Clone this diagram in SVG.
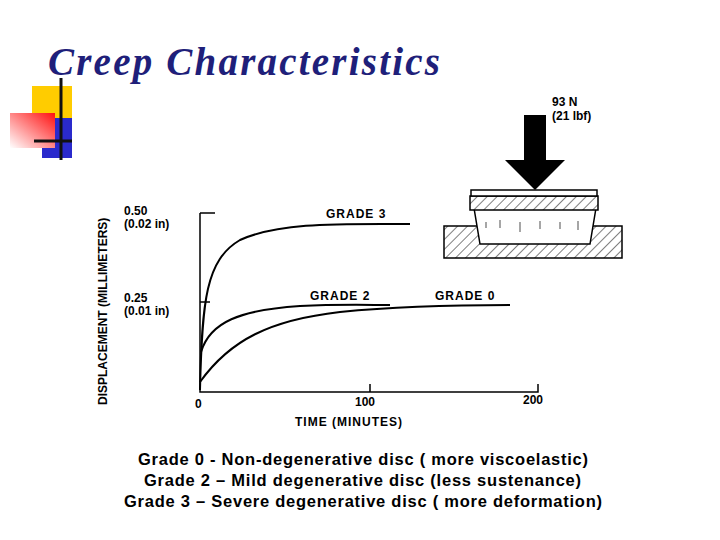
<svg xmlns="http://www.w3.org/2000/svg" width="720" height="540" viewBox="0 0 720 540">
<defs>
<linearGradient id="rg" x1="1" y1="0" x2="0" y2="1"><stop offset="0" stop-color="#ff1010"/><stop offset="1" stop-color="#ffffff"/></linearGradient>
<pattern id="hatch" width="7" height="7" patternUnits="userSpaceOnUse" patternTransform="rotate(45)"><rect width="7" height="7" fill="#fff"/><line x1="0" y1="0" x2="0" y2="7" stroke="#000" stroke-width="1"/></pattern>
<style>.ax{fill:none;stroke:#000;stroke-width:1.5}.cv{fill:none;stroke:#000;stroke-width:2}.lb{font-family:"Liberation Sans",Arial,sans-serif;font-weight:bold;font-size:12px;fill:#000}.cap{font-family:"Liberation Sans",Arial,sans-serif;font-weight:bold;font-size:16.5px;fill:#000}</style>
</defs>
<rect width="720" height="540" fill="#fff"/>
<text x="48" y="75" font-family="Liberation Serif,serif" font-style="italic" font-weight="bold" font-size="39" fill="#1f1f7a" textLength="392" lengthAdjust="spacing">Creep Characteristics</text>
<g id="logo">
<rect x="32" y="86" width="40" height="32" fill="#ffcc00"/>
<rect x="42" y="118" width="30" height="40" fill="#2a2acc"/>
<rect x="10" y="113" width="45" height="35" fill="url(#rg)"/>
<line x1="61" y1="78" x2="61" y2="160" stroke="#111" stroke-width="3"/>
<line x1="34" y1="141" x2="72" y2="141" stroke="#111" stroke-width="3"/>
</g>
<g id="axes">
<path class="ax" d="M200 213 H215 M200 213 V392 H538 V384 M370 392 V384 M200 302 H210"/>
</g>
<g id="curves">
<path class="cv" d="M200 390 C202 300 206 260 240 240 C280 222 340 224 410 224"/>
<path class="cv" d="M201 352 C210 322 240 310 300 306 C340 304 370 305 390 305"/>
<path class="cv" d="M200 382 C230 340 270 320 340 312 C400 306 460 305 510 305"/>
</g>
<g id="labels">
<text class="lb" x="124" y="215" font-size="11.5">0.50</text><text class="lb" x="124" y="228" font-size="11.5">(0.02 in)</text>
<text class="lb" x="124" y="302" font-size="11.5">0.25</text><text class="lb" x="124" y="315" font-size="11.5">(0.01 in)</text>
<text class="lb" x="195" y="408" font-size="13">0</text><text class="lb" x="355" y="406" font-size="13">100</text><text class="lb" x="523" y="404" font-size="13">200</text>
<text class="lb" x="295" y="426" font-size="13.5" letter-spacing="1">TIME (MINUTES)</text>
<text class="lb" transform="translate(107 405) rotate(-90)" font-size="12.5">DISPLACEMENT (MILLIMETERS)</text>
<text class="lb" x="326" y="218" font-size="13" letter-spacing="1">GRADE 3</text>
<text class="lb" x="310" y="300" font-size="13" letter-spacing="1">GRADE 2</text>
<text class="lb" x="435" y="300" font-size="13" letter-spacing="1">GRADE 0</text>
</g>
<g id="apparatus">
<rect x="444" y="226" width="178" height="32" fill="url(#hatch)" stroke="#000" stroke-width="1.5"/>
<path d="M474 208 H596 L590 244 H480 Z" fill="#fff" stroke="#000" stroke-width="1.5"/>
<path d="M486 222 v6 M500 220 v8 M520 222 v10 M540 221 v8 M560 222 v7 M578 221 v9" stroke="#000" stroke-width="0.7"/>
<rect x="470" y="196" width="128" height="14" fill="url(#hatch)" stroke="#000" stroke-width="1.5"/>
<rect x="471" y="190" width="126" height="6" fill="#fff" stroke="#000" stroke-width="1.5"/>
<path d="M524 115 H546 V160 H565 L535 190 L505 160 H524 Z" fill="#000"/>
<text class="lb" x="552" y="106" font-size="13">93 N</text><text class="lb" x="552" y="120" font-size="13">(21 lbf)</text>
</g>
<text class="cap" x="138" y="465" textLength="450" lengthAdjust="spacing">Grade 0 - Non-degenerative disc ( more viscoelastic)</text>
<text class="cap" x="144" y="486" textLength="437" lengthAdjust="spacing">Grade 2 – Mild degenerative disc (less sustenance)</text>
<text class="cap" x="124" y="507" textLength="478" lengthAdjust="spacing">Grade 3 – Severe degenerative disc ( more deformation)</text>
</svg>
